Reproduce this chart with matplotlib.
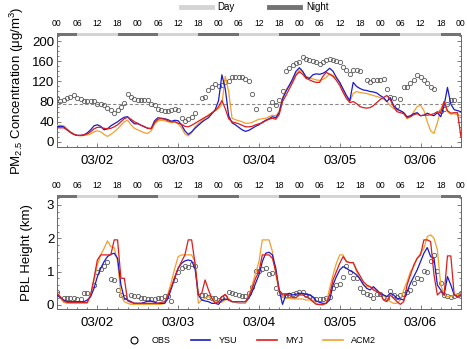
import numpy as np
import matplotlib
matplotlib.use('Agg')
import matplotlib.pyplot as plt
from matplotlib.lines import Line2D
from matplotlib.patches import Rectangle
import matplotlib.transforms as mtransforms
from matplotlib.ticker import MultipleLocator

plt.rcParams['font.family'] = ['Liberation Sans', 'DejaVu Sans']
plt.rcParams['mathtext.default'] = 'regular'

nan = np.nan
hours = np.arange(121)
date_labels = ['03/02', '03/03', '03/04', '03/05', '03/06']
date_hours = [12, 36, 60, 84, 108]
clock_labels = ['00', '06', '12', '18'] * 5 + ['00']
clock_hours = list(range(0, 121, 6))
pm_standard = 75

obs_pm = [88, 82, 84, 87, 90, 93, 87, 86, 82, 82,
          82, 82, 75, 76, 74, 67, 63, 58, 64, 70,
          77, 95, 90, 86, 84, 83, 83, 83, 76, 73,
          65, 63, 62, 61, 63, 65, 63, 47, 42, 45,
          49, 57, nan, 88, 90, 103, 108, 114, 110, 113,
          119, 121, 129, 129, 129, 128, 124, 120, 96, 66,
          nan, nan, nan, 66, 80, 73, 83, 100, 140, 146,
          152, 156, 159, 169, 164, 162, 160, 158, 154, 159,
          162, 164, 162, 161, 159, 149, 142, 134, 142, 142,
          141, nan, 122, 119, 122, 122, 122, 124, 104, 89,
          88, 71, 86, 108, 108, 116, 122, 132, 129, 122,
          117, 109, 104, nan, 62, 66, 76, 83, 84, nan,
          nan]
ysu_pm = [30, 31, 30, 24, 19, 15, 13, 13, 14, 18,
          24, 32, 34, 31, 24, 26, 32, 36, 40, 45,
          49, 50, 42, 36, 36, 33, 30, 27, 27, 42,
          48, 47, 46, 44, 41, 43, 42, 34, 22, 15,
          20, 27, 33, 39, 44, 48, 56, 64, 82, 133,
          105, 52, 38, 34, 29, 24, 21, 23, 27, 31,
          34, 39, 43, 46, 50, 48, 58, 85, 100, 112,
          125, 140, 147, 140, 128, 126, 133, 135, 134, 136,
          140, 146, 140, 128, 118, 105, 92, 82, 118, 110,
          106, 103, 102, 100, 99, 97, 92, 88, 80, 88,
          72, 65, 62, 58, 50, 52, 56, 58, 52, 53,
          57, 54, 52, 58, 50, 72, 108, 75, 64, 62,
          60]
myj_pm = [28, 28, 28, 24, 19, 15, 13, 13, 14, 16,
          20, 26, 29, 29, 27, 26, 27, 30, 34, 40,
          46, 49, 45, 40, 37, 33, 30, 27, 26, 38,
          45, 46, 45, 42, 40, 40, 37, 35, 31, 30,
          33, 37, 41, 45, 49, 52, 58, 62, 70, 82,
          66, 46, 40, 38, 36, 33, 30, 30, 31, 34,
          36, 38, 42, 45, 47, 45, 54, 80, 92, 105,
          118, 132, 139, 134, 126, 123, 120, 118, 118, 130,
          138, 134, 130, 122, 112, 98, 86, 78, 80, 76,
          70, 68, 67, 68, 72, 78, 84, 88, 92, 84,
          70, 60, 58, 56, 48, 50, 54, 56, 52, 53,
          53, 54, 56, 60, 58, 80, 62, 57, 58, 58,
          10]
acm2_pm = [33, 33, 32, 26, 20, 16, 13, 12, 13, 14,
           16, 20, 22, 20, 15, 11, 15, 20, 26, 33,
           40, 43, 34, 27, 24, 21, 18, 17, 22, 36,
           42, 43, 42, 40, 38, 40, 36, 28, 16, 12,
           18, 30, 36, 42, 48, 54, 57, 62, 66, 75,
           130, 100, 47, 44, 42, 40, 37, 37, 39, 42,
           45, 46, 47, 50, 53, 52, 60, 88, 103, 112,
           120, 135, 142, 138, 130, 127, 125, 123, 122, 124,
           128, 135, 132, 126, 118, 102, 88, 80, 96, 100,
           98, 97, 96, 94, 92, 90, 88, 85, 80, 72,
           66, 63, 62, 58, 46, 50, 60, 70, 73, 62,
           40, 22, 17, 38, 65, 80, 60, 55, 56, 54,
           52]

obs_pbl = [0.39, nan, 0.20, 0.22, 0.20, 0.20, 0.19, 0.18, 0.35, 0.35,
           nan, 0.59, 0.98, 1.08, 1.18, 1.29, 0.78, 0.74, 0.44, 0.31,
           0.24, nan, 0.29, 0.27, 0.26, 0.22, 0.20, 0.19, 0.17, 0.19,
           0.22, 0.20, 0.26, 0.28, 0.12, 0.74, 0.98, 1.10, 1.18, 1.13,
           1.22, 1.18, nan, 0.30, 0.30, 0.25, 0.20, 0.22, 0.15, 0.20,
           0.25, 0.38, 0.35, 0.33, 0.30, 0.28, 0.26, 0.35, 0.55, 1.03,
           1.03, 1.08, 1.10, 0.92, 0.97, 0.50, 0.35, 0.29, 0.30, 0.30,
           0.32, 0.36, 0.38, 0.38, 0.30, 0.28, 0.18, 0.18, 0.18, 0.18,
           0.22, 0.24, 0.50, 0.60, 0.64, 0.83, 1.18, 0.98, 0.80, 0.80,
           0.50, 0.40, 0.34, 0.29, 0.20, 0.34, 0.32, 0.25, 0.22, 0.42,
           0.30, 0.25, 0.30, 0.32, 0.40, 0.45, 0.65, 0.80, 0.78, 1.03,
           1.00, 1.32, 1.50, 1.03, 0.65, 0.30, 0.28, 0.25, 0.28, 0.30,
           0.35]
ysu_pbl = [0.30, 0.22, 0.15, 0.10, 0.10, 0.10, 0.10, 0.10, 0.10, 0.15,
           0.25, 0.50, 0.85, 1.10, 1.30, 1.45, 1.52, 1.55, 1.40, 0.60,
           0.20, 0.15, 0.10, 0.05, 0.05, 0.05, 0.08, 0.12, 0.12, 0.08,
           0.05, 0.05, 0.05, 0.20, 0.50, 0.80, 1.10, 1.25, 1.32, 1.35,
           1.32, 1.10, 0.30, 0.15, 0.12, 0.10, 0.05, 0.05, 0.02, 0.15,
           0.18, 0.15, 0.10, 0.10, 0.10, 0.10, 0.10, 0.20, 0.40, 0.65,
           0.90, 1.30, 1.55, 1.58, 1.50, 1.10, 0.45, 0.02, 0.30, 0.35,
           0.30, 0.32, 0.35, 0.35, 0.32, 0.30, 0.25, 0.12, 0.08, 0.05,
           0.05, 0.15, 0.60, 0.85, 1.05, 1.15, 1.10, 1.03, 0.98, 0.90,
           0.78, 0.62, 0.50, 0.45, 0.55, 0.45, 0.35, 0.30, 0.25, 0.35,
           0.30, 0.20, 0.18, 0.15, 0.40, 0.65, 0.85, 1.05, 1.30, 1.55,
           1.72, 1.45, 1.40, 0.60, 0.45, 0.30, 0.85, 0.60, 0.30, 0.25,
           0.30]
myj_pbl = [0.35, 0.25, 0.12, 0.08, 0.08, 0.08, 0.08, 0.08, 0.08, 0.08,
           0.30, 0.80, 1.35, 1.50, 1.50, 1.50, 1.50, 1.95, 1.95, 0.80,
           0.80, 0.12, 0.08, 0.05, 0.05, 0.05, 0.05, 0.05, 0.05, 0.05,
           0.05, 0.08, 0.10, 0.30, 0.55, 0.85, 1.10, 1.30, 1.50, 1.95,
           1.95, 1.25, 0.30, 0.35, 0.75, 0.45, 0.20, 0.05, 0.10, 0.25,
           0.32, 0.15, 0.10, 0.10, 0.10, 0.10, 0.10, 0.25, 0.50, 0.80,
           1.00, 1.50, 1.50, 1.50, 1.40, 1.00, 0.45, 0.30, 0.30, 0.30,
           0.22, 0.22, 0.30, 0.30, 0.25, 0.20, 0.10, 0.02, 0.02, 0.02,
           0.05, 0.30, 0.75, 1.00, 1.25, 1.45, 1.30, 1.27, 1.27, 1.05,
           0.88, 0.70, 0.60, 0.55, 0.45, 0.40, 0.35, 0.15, 0.10, 0.30,
           0.20, 0.10, 0.02, 0.10, 0.60, 0.90, 1.20, 1.40, 1.50, 1.95,
           1.95, 1.90, 0.90, 0.30, 0.40, 0.30, 1.47, 1.47, 0.30, 0.25,
           0.30]
acm2_pbl = [0.35, 0.20, 0.08, 0.05, 0.05, 0.05, 0.05, 0.05, 0.05, 0.05,
            0.30, 0.75, 1.20, 1.50, 1.70, 1.92, 1.75, 1.72, 1.30, 0.30,
            0.10, 0.05, 0.02, 0.02, 0.02, 0.02, 0.02, 0.02, 0.02, 0.02,
            0.02, 0.02, 0.05, 0.35, 0.70, 1.10, 1.45, 1.50, 1.50, 1.50,
            1.50, 1.30, 0.05, 0.15, 0.20, 0.25, 0.20, 0.10, 0.10, 0.08,
            0.15, 0.20, 0.10, 0.08, 0.05, 0.05, 0.05, 0.30, 0.60, 0.95,
            1.30, 1.95, 1.95, 1.95, 1.60, 0.90, 0.40, 0.25, 0.20, 0.20,
            0.18, 0.18, 0.18, 0.18, 0.15, 0.15, 0.15, 0.05, 0.00, 0.00,
            0.05, 0.50, 0.90, 1.25, 1.50, 1.50, 1.30, 1.27, 1.27, 1.00,
            0.78, 0.60, 0.55, 0.55, 0.50, 0.45, 0.35, 0.30, 0.20, 0.10,
            0.05, 0.05, 0.15, 0.45, 0.70, 1.00, 1.15, 1.40, 1.55, 1.70,
            2.05, 2.10, 2.00, 1.65, 0.60, 0.30, 0.25, 0.25, 0.30, 0.30,
            0.35]

c_ysu = '#1a1acc'
c_myj = '#dd1c1c'
c_acm = '#f2a02c'
c_obs = '#5a5a5a'
c_day = '#d4d4d4'
c_night = '#737373'
c_frame = '#666666'

fig = plt.figure(figsize=(4.67, 3.49), dpi=100)
ax1 = fig.add_axes([0.122, 0.5788, 0.865, 0.321])
ax2 = fig.add_axes([0.122, 0.1146, 0.865, 0.321])


def style(ax, ylim, ymajor, yminor):
    ax.set_xlim(0, 120)
    ax.set_ylim(*ylim)
    ax.set_xticks(date_hours, date_labels)
    ax.xaxis.set_minor_locator(MultipleLocator(3))
    ax.yaxis.set_major_locator(MultipleLocator(ymajor))
    ax.yaxis.set_minor_locator(MultipleLocator(yminor))
    ax.tick_params(which='both', direction='in', right=True, top=False,
                   color=c_frame, labelsize=9.5, width=0.6)
    ax.tick_params(which='major', length=3, pad=2)
    ax.tick_params(which='minor', length=1.6)
    ax.tick_params(axis='x', which='major', pad=6)
    for s in ax.spines.values():
        s.set_color(c_frame)
        s.set_linewidth(0.7)
    trans = mtransforms.blended_transform_factory(ax.transData, ax.transAxes)
    for s in clock_hours[:-1]:
        night = (s % 24) in (0, 18)
        ax.add_patch(Rectangle((s, 0.99), 6, 0.03, transform=trans,
                               facecolor=c_night if night else c_day,
                               edgecolor='none', clip_on=False, zorder=6))
    sec = ax.secondary_xaxis('top')
    sec.set_xticks(clock_hours, clock_labels)
    sec.tick_params(length=0, pad=5, labelsize=6.2)
    sec.spines['top'].set_visible(False)


for ax, obs, ysu, myj, acm in [(ax1, obs_pm, ysu_pm, myj_pm, acm2_pm),
                               (ax2, obs_pbl, ysu_pbl, myj_pbl, acm2_pbl)]:
    ax.plot(hours, obs, 'o', mfc='none', mec=c_obs, ms=3.1, mew=0.6, zorder=2)
    ax.plot(hours, acm, color=c_acm, lw=0.9, zorder=3)
    ax.plot(hours, ysu, color=c_ysu, lw=0.9, zorder=4)
    ax.plot(hours, myj, color=c_myj, lw=0.9, zorder=5)

ax1.axhline(pm_standard, color='#888888', lw=0.8, ls=(0, (3, 2)), zorder=1)

style(ax1, (-10, 212), 40, 10)
style(ax2, (-0.12, 3.235), 1, 0.2)

ax1.set_ylabel('PM$_{2.5}$ Concentration (μg/m$^{3}$)', fontsize=9.5, labelpad=4)
ax2.set_ylabel('PBL Height (km)', fontsize=9.5, labelpad=10)

top_handles = [Line2D([], [], color=c_day, lw=3.5), Line2D([], [], color=c_night, lw=3.5)]
fig.legend(top_handles, ['Day', 'Night'], loc='upper center',
           bbox_to_anchor=(0.545, 1.018), ncol=2, frameon=False, fontsize=7,
           handlelength=3.2, columnspacing=3.5, handletextpad=0.6)

bot_handles = [Line2D([], [], marker='o', ls='none', mfc='none', mec='black', ms=5, mew=0.8),
               Line2D([], [], color=c_ysu, lw=1.2),
               Line2D([], [], color=c_myj, lw=1.2),
               Line2D([], [], color=c_acm, lw=1.2)]
fig.legend(bot_handles, ['OBS', 'YSU', 'MYJ', 'ACM2'], loc='lower center',
           bbox_to_anchor=(0.535, -0.012), ncol=4, frameon=False, fontsize=6.5,
           handlelength=2.2, columnspacing=2.2, handletextpad=0.9)

fig.savefig('out.png', dpi=100)
